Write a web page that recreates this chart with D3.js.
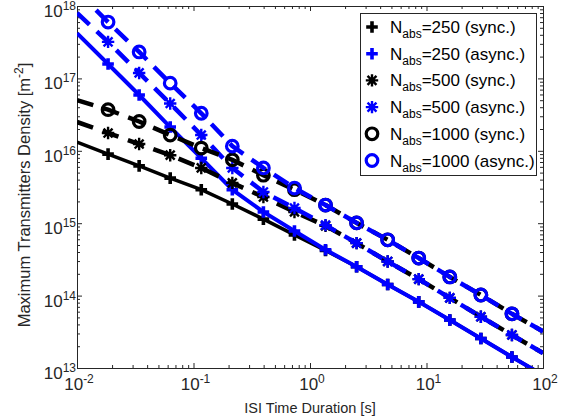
<!DOCTYPE html>
<html>
<head>
<meta charset="utf-8">
<script src="https://cdn.jsdelivr.net/npm/d3@7"></script>
<style>
  body { margin: 0; background: #fff; }
  svg { display: block; font-family: "Liberation Sans", Arial, Helvetica, sans-serif; }
</style>
</head>
<body>
<div id="chart"></div>
<script>
// ISI time duration [s] (sample points of every curve)
var tValues = [0.01, 0.01848, 0.03415, 0.0631, 0.1166, 0.2154, 0.3981, 0.7356,
               1.359, 2.512, 4.642, 8.577, 15.85, 29.29, 54.12, 100];

// maximum transmitters density [m^-2]
var sync250   = [1.32e16, 9.0e15, 6.2e15, 4.2e15, 2.9e15, 1.84e15, 1.14e15, 6.9e14,
                 4.2e14, 2.5e14, 1.42e14, 8.2e13, 4.6e13, 2.55e13, 1.42e13, 8.0e12];
var async250  = [4.2e17, 1.58e17, 5.9e16, 2.13e16, 7.9e15, 2.9e15, 1.43e15, 7.8e14,
                 4.3e14, 2.5e14, 1.42e14, 8.2e13, 4.6e13, 2.55e13, 1.42e13, 8.0e12];
var sync500   = [2.5e16, 1.76e16, 1.24e16, 8.7e15, 5.8e15, 3.6e15, 2.3e15, 1.43e15,
                 9.2e14, 5.3e14, 2.96e14, 1.69e14, 9.3e13, 5.1e13, 2.86e13, 1.61e13];
var async500  = [8.0e17, 3.2e17, 1.19e17, 4.5e16, 1.65e16, 5.8e15, 2.7e15, 1.62e15,
                 9.4e14, 5.3e14, 2.96e14, 1.69e14, 9.3e13, 5.1e13, 2.86e13, 1.61e13];
var sync1000  = [5.0e16, 3.7e16, 2.54e16, 1.65e16, 1.09e16, 7.5e15, 4.6e15, 2.9e15,
                 1.78e15, 1.01e15, 5.9e14, 3.3e14, 1.81e14, 1.02e14, 5.6e13, 3.2e13];
var async1000 = [1.61e18, 6.0e17, 2.32e17, 8.6e16, 3.3e16, 1.16e16, 5.8e15, 3.06e15,
                 1.78e15, 1.01e15, 5.9e14, 3.3e14, 1.81e14, 1.02e14, 5.6e13, 3.2e13];

var legendN    = ["250", "250", "500", "500", "1000", "1000"];
var legendMode = ["(sync.)", "(async.)", "(sync.)", "(async.)", "(sync.)", "(async.)"];

var xTickExps = [-2, -1, 0, 1, 2];
var yTickExps = [13, 14, 15, 16, 17, 18];

var width = 573, height = 419;
var plotL = 77, plotR = 543, plotT = 6, plotB = 368;
var axisColor = "#262626";

var x = d3.scaleLog().domain([1e-2, 1e2]).range([plotL, plotR]);
var y = d3.scaleLog().domain([1e13, 1e18]).range([plotB, plotT]);

var series = [
  {values: sync250,   color: "#000000", dash: null,    lw: 3.5, marker: "plus"},
  {values: async250,  color: "#0000ff", dash: null,    lw: 4,   marker: "plus"},
  {values: sync500,   color: "#000000", dash: "17,10", lw: 4.5, marker: "star"},
  {values: async500,  color: "#0000ff", dash: "17,10", lw: 4.5, marker: "star"},
  {values: sync1000,  color: "#000000", dash: "17,10", lw: 4.5, marker: "circle"},
  {values: async1000, color: "#0000ff", dash: "17,10", lw: 4.5, marker: "circle"}
];

var svg = d3.select("#chart").append("svg")
    .attr("width", width)
    .attr("height", height);

svg.append("defs").append("clipPath")
    .attr("id", "plotclip")
  .append("rect")
    .attr("x", plotL).attr("y", plotT)
    .attr("width", plotR - plotL).attr("height", plotB - plotT);

// minor tick values
function minors(lo, hi) {
  var out = [];
  for (var e = lo; e < hi; e++)
    for (var m = 2; m <= 9; m++) out.push(m * Math.pow(10, e));
  return out;
}
var xMajor = xTickExps.map(function(e) { return Math.pow(10, e); });
var yMajor = yTickExps.map(function(e) { return Math.pow(10, e); });
var xMinor = minors(-2, 2), yMinor = minors(13, 18);

function styleAxis(g) {
  g.selectAll("path, line").attr("stroke", axisColor).attr("stroke-width", 1);
  g.selectAll("text").remove();
}

// axes with inward ticks on all four sides
svg.append("g").attr("transform", "translate(0," + plotB + ")")
    .call(d3.axisBottom(x).tickValues(xMajor).tickSizeInner(-5).tickSizeOuter(0)).call(styleAxis);
svg.append("g").attr("transform", "translate(0," + plotB + ")")
    .call(d3.axisBottom(x).tickValues(xMinor).tickSizeInner(-3).tickSizeOuter(0)).call(styleAxis);
svg.append("g").attr("transform", "translate(0," + plotT + ")")
    .call(d3.axisTop(x).tickValues(xMajor).tickSizeInner(-5).tickSizeOuter(0)).call(styleAxis);
svg.append("g").attr("transform", "translate(0," + plotT + ")")
    .call(d3.axisTop(x).tickValues(xMinor).tickSizeInner(-3).tickSizeOuter(0)).call(styleAxis);
svg.append("g").attr("transform", "translate(" + plotL + ",0)")
    .call(d3.axisLeft(y).tickValues(yMajor).tickSizeInner(-5).tickSizeOuter(0)).call(styleAxis);
svg.append("g").attr("transform", "translate(" + plotL + ",0)")
    .call(d3.axisLeft(y).tickValues(yMinor).tickSizeInner(-3).tickSizeOuter(0)).call(styleAxis);
svg.append("g").attr("transform", "translate(" + plotR + ",0)")
    .call(d3.axisRight(y).tickValues(yMajor).tickSizeInner(-5).tickSizeOuter(0)).call(styleAxis);
svg.append("g").attr("transform", "translate(" + plotR + ",0)")
    .call(d3.axisRight(y).tickValues(yMinor).tickSizeInner(-3).tickSizeOuter(0)).call(styleAxis);

// tick labels 10^n
function powLabel(sel, exp) {
  sel.append("tspan").text("10");
  sel.append("tspan").attr("font-size", 12).attr("dy", -7).text(exp);
}
xTickExps.forEach(function(e) {
  svg.append("text")
      .attr("x", x(Math.pow(10, e)) + 2).attr("y", plotB + 22)
      .attr("text-anchor", "middle").attr("font-size", 17).attr("fill", axisColor)
      .call(powLabel, e);
});
yTickExps.forEach(function(e) {
  svg.append("text")
      .attr("x", plotL - 1).attr("y", y(Math.pow(10, e)) + 11)
      .attr("text-anchor", "end").attr("font-size", 17).attr("fill", axisColor)
      .call(powLabel, e);
});

// axis titles
svg.append("text")
    .attr("x", (plotL + plotR) / 2).attr("y", 413)
    .attr("text-anchor", "middle").attr("font-size", 14.5).attr("fill", axisColor)
    .text("ISI Time Duration [s]");

var yt = svg.append("text")
    .attr("transform", "translate(30,195) rotate(-90)")
    .attr("text-anchor", "middle").attr("font-size", 16.5).attr("fill", axisColor);
yt.append("tspan").text("Maximum Transmitters Density [m");
yt.append("tspan").attr("font-size", 12).attr("dy", -7).text("-2");
yt.append("tspan").attr("dy", 7).text("]");

// marker shapes
function markerPath(type, s) {
  var p = "M" + (-s) + ",0H" + s + "M0," + (-s) + "V" + s;
  if (type == "star") {
    var d = s * 0.72;
    p += "M" + (-d) + "," + (-d) + "L" + d + "," + d + "M" + (-d) + "," + d + "L" + d + "," + (-d);
  }
  return p;
}
function drawMarker(g, type, color) {
  if (type == "circle") {
    g.append("circle").attr("r", 5.8).attr("fill", "none")
        .attr("stroke", color).attr("stroke-width", 3.2);
  } else if (type == "star") {
    g.append("path").attr("d", markerPath(type, 6.2)).attr("fill", "none")
        .attr("stroke", color).attr("stroke-width", 2.4);
  } else {
    g.append("path").attr("d", markerPath(type, 5.8)).attr("fill", "none")
        .attr("stroke", color).attr("stroke-width", 3.6);
  }
}

var line = d3.line()
    .x(function(d) { return x(d[0]); })
    .y(function(d) { return y(d[1]); });

var plot = svg.append("g").attr("clip-path", "url(#plotclip)");

series.forEach(function(s) {
  var pts = tValues.map(function(t, i) { return [t, s.values[i]]; });

  plot.append("path")
      .attr("d", line(pts))
      .attr("fill", "none")
      .attr("stroke", s.color)
      .attr("stroke-width", s.lw)
      .attr("stroke-dasharray", s.dash);

  pts.slice(1, 15).forEach(function(p) {
    var g = plot.append("g").attr("transform", "translate(" + x(p[0]) + "," + y(p[1]) + ")");
    drawMarker(g, s.marker, s.color);
  });
});

// legend
var lg = svg.append("g");
lg.append("rect")
    .attr("x", 360.5).attr("y", 13.5).attr("width", 176).attr("height", 162)
    .attr("fill", "#fff").attr("stroke", axisColor).attr("stroke-width", 1);

series.forEach(function(s, i) {
  var cy = 27 + i * 26.7;
  var g = lg.append("g").attr("transform", "translate(372," + cy + ")");
  drawMarker(g, s.marker, s.color);
  var t = lg.append("text")
      .attr("x", 390).attr("y", cy + 6)
      .attr("font-size", 17).attr("fill", "#000");
  t.append("tspan").text("N");
  t.append("tspan").attr("font-size", 12).attr("dy", 5).text("abs");
  t.append("tspan").attr("dy", -5).text("=" + legendN[i] + " " + legendMode[i]);
});
</script>
</body>
</html>
